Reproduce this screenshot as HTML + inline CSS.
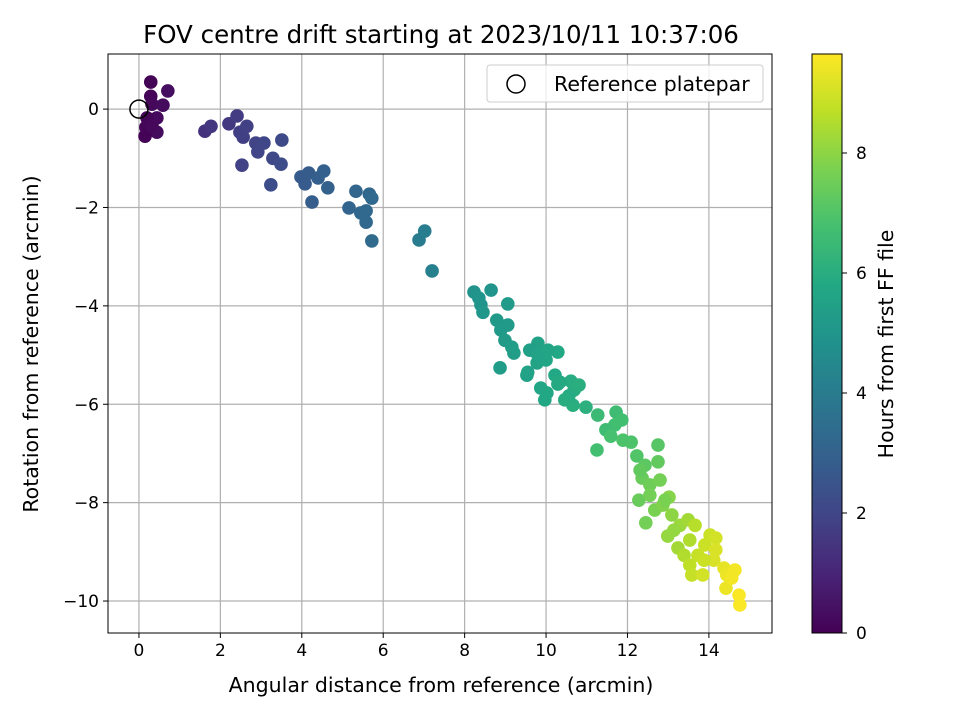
<!DOCTYPE html>
<html><head><meta charset="utf-8"><style>
body{margin:0;background:#fff;font-family:"Liberation Sans","DejaVu Sans",sans-serif}
svg text{font-family:"DejaVu Sans","Liberation Sans",sans-serif;fill:#000}
</style></head><body>
<svg id="c" width="960" height="720" xmlns="http://www.w3.org/2000/svg">
<defs><linearGradient id="vg" x1="0" y1="1" x2="0" y2="0">
<stop offset="0" stop-color="#440154"/><stop offset="0.1" stop-color="#482475"/><stop offset="0.2" stop-color="#414487"/><stop offset="0.3" stop-color="#355f8d"/><stop offset="0.4" stop-color="#2a788e"/><stop offset="0.5" stop-color="#21918c"/><stop offset="0.6" stop-color="#22a884"/><stop offset="0.7" stop-color="#44bf70"/><stop offset="0.8" stop-color="#7ad151"/><stop offset="0.9" stop-color="#bddf26"/><stop offset="1" stop-color="#fde725"/></linearGradient></defs>
<text x="441" y="43" font-size="24.5" text-anchor="middle">FOV centre drift starting at 2023/10/11 10:37:06</text>
<g id="grid"></g><g id="pts"></g>
<rect x="108" y="54" width="664" height="579" fill="none" stroke="#000" stroke-width="1"/>
<g id="axes"></g>
<text x="441" y="692" font-size="20.5" text-anchor="middle">Angular distance from reference (arcmin)</text>
<text transform="translate(38,344) rotate(-90)" font-size="20.5" text-anchor="middle">Rotation from reference (arcmin)</text>
<g>
<rect x="487" y="65" width="276" height="37" rx="3" fill="#fff" fill-opacity="0.8" stroke="#ccc"/>
<circle cx="516" cy="84" r="9" fill="none" stroke="#000" stroke-width="1.5"/>
<text x="554" y="91" font-size="20.5">Reference platepar</text></g>
<rect x="812" y="54" width="30" height="579" fill="url(#vg)" stroke="#000"/>
<g id="cb"></g>
<text transform="translate(893,344) rotate(-90)" font-size="20.5" text-anchor="middle">Hours from first FF file</text>
</svg>
<script>
const xTicks=[0,2,4,6,8,10,12,14];
const yTicks=[0,-2,-4,-6,-8,-10];
const cbTicks=[0,2,4,6,8];
const xs=[0.29,0.29,0.32,0.59,0.71,0.44,0.2,0.17,0.44,0.15,0.32,
1.62,1.77,2.21,2.41,2.48,2.56,2.65,2.53,2.87,2.92,3.07,3.29,3.49,3.51,3.24,
3.98,4.08,4.17,4.25,4.40,4.54,4.64,5.16,5.33,5.45,5.58,5.58,5.66,5.72,5.72,
6.88,7.02,7.2,
8.23,8.65,8.40,8.45,9.06,8.79,8.89,8.99,9.16,9.21,8.87,9.53,9.80,9.60,9.55,9.78,10.0,9.87,10.02,10.22,10.29,10.61,10.69,10.66,10.56,10.29,9.97,10.46,8.35,9.06,9.8,10.05,10.34,10.81,10.98,
11.27,11.72,11.69,11.47,11.25,11.59,11.89,12.23,12.43,12.75,12.36,12.55,12.28,12.67,12.45,12.87,13.02,13.09,13.29,12.99,13.24,13.53,13.39,13.73,14.03,13.9,14.17,14.12,13.53,13.58,13.85,14.37,14.44,14.42,14.74,14.76,11.86,12.09,12.75,12.92,13.49,13.88,14.17,14.64,14.56,12.55,12.8,12.31,13.14,13.66];
const ys=[0.55,0.26,0.1,0.08,0.37,-0.18,-0.18,-0.37,-0.47,-0.55,-0.35,
-0.45,-0.35,-0.3,-0.14,-0.47,-0.57,-0.35,-1.14,-0.69,-0.87,-0.69,-1.0,-1.12,-0.63,-1.54,
-1.38,-1.52,-1.3,-1.89,-1.4,-1.26,-1.6,-2.01,-1.67,-2.11,-2.07,-2.3,-1.73,-1.81,-2.68,
-2.66,-2.48,-3.29,
-3.72,-3.68,-3.98,-4.13,-3.96,-4.29,-4.49,-4.70,-4.84,-4.96,-5.26,-5.41,-4.76,-4.90,-5.35,-5.16,-5.10,-5.67,-5.77,-5.41,-5.59,-5.53,-5.71,-6.02,-5.83,-4.94,-5.91,-5.91,-3.84,-4.39,-5.0,-4.9,-5.55,-5.61,-6.06,
-6.22,-6.16,-6.42,-6.52,-6.93,-6.65,-6.73,-7.05,-7.24,-7.17,-7.5,-7.64,-7.95,-8.15,-8.41,-8.05,-7.89,-8.25,-8.46,-8.68,-8.92,-8.76,-9.07,-9.07,-8.66,-8.86,-8.72,-9.17,-9.27,-9.47,-9.47,-9.33,-9.47,-9.74,-9.88,-10.08,-6.32,-6.77,-6.83,-7.95,-8.35,-9.17,-8.96,-9.37,-9.53,-7.85,-7.54,-7.34,-8.56,-8.46];
const hours=[0.1,0.15,0.2,0.3,0.35,0.25,0.1,0.15,0.3,0.05,0.2,
1.4,1.5,1.6,1.7,1.75,1.8,1.85,1.9,1.95,2.0,2.05,2.1,2.2,2.15,2.25,
2.7,2.75,2.8,2.85,2.9,2.95,3.0,3.1,3.15,3.2,3.25,3.3,3.2,3.25,3.35,
4.0,4.05,4.15,
4.9,5.0,5.0,5.05,5.2,5.15,5.2,5.25,5.3,5.35,5.3,5.5,5.5,5.45,5.55,5.6,5.65,5.7,5.75,5.8,5.85,5.95,6.0,6.05,5.9,5.8,5.75,6.0,4.95,5.2,5.55,5.65,5.85,6.05,6.1,
6.5,6.6,6.7,6.6,6.7,6.8,6.9,7.0,7.2,7.3,7.4,7.5,7.4,7.7,7.6,7.8,7.9,8.0,8.2,8.1,8.3,8.5,8.5,8.8,8.9,8.9,9.0,9.1,8.7,8.8,9.0,9.3,9.4,9.4,9.6,9.6,6.7,6.9,7.1,7.7,8.3,8.9,9.1,9.5,9.5,7.6,7.6,7.3,8.1,8.6];
const NS='http://www.w3.org/2000/svg';
const X0=108,X1=772,Y0=54,Y1=633,XMIN=-0.76,XMAX=15.55,YMIN=-10.65,YMAX=1.12,HMAX=9.65;
const sx=v=>X0+(v-XMIN)/(XMAX-XMIN)*(X1-X0);
const sy=v=>Y1-(v-YMIN)/(YMAX-YMIN)*(Y1-Y0);
const sc=v=>Y1-v/HMAX*(Y1-Y0);
const VS=[[68,1,84],[72,36,117],[65,68,135],[53,95,141],[42,120,142],[33,145,140],[34,168,132],[68,191,112],[122,209,81],[189,223,38],[253,231,37]];
function vir(t){t=Math.max(0,Math.min(1,t))*(VS.length-1);const i=Math.min(Math.floor(t),VS.length-2),f=t-i;const c=VS[i].map((a,k)=>Math.round(a+(VS[i+1][k]-a)*f));return `rgb(${c})`;}
function mk(t,a,p){const e=document.createElementNS(NS,t);for(const k in a)e.setAttribute(k,a[k]);if(p)p.appendChild(e);return e;}
const grid=document.getElementById('grid'),axes=document.getElementById('axes'),pts=document.getElementById('pts'),cb=document.getElementById('cb');
xTicks.forEach(v=>{const x=sx(v);
const g=mk('line',{x1:x,x2:x,y1:Y0,y2:Y1,stroke:'#b0b0b0','stroke-width':1.2},grid);


mk('line',{x1:x,x2:x,y1:Y1,y2:Y1+5,stroke:'#000'},axes);
const t=mk('text',{x:x,y:Y1+23,'font-size':17,'text-anchor':'middle'},axes);t.textContent=v<0?'\u2212'+(-v):v;

});
yTicks.forEach(v=>{const y=sy(v);
const g=mk('line',{x1:X0,x2:X1,y1:y,y2:y,stroke:'#b0b0b0','stroke-width':1.2},grid);


mk('line',{x1:X0-5,x2:X0,y1:y,y2:y,stroke:'#000'},axes);
const t=mk('text',{x:X0-9,y:y+6,'font-size':17,'text-anchor':'end'},axes);t.textContent=v<0?'\u2212'+(-v):v;

});
cbTicks.forEach(v=>{const y=sc(v);
mk('line',{x1:842,x2:847,y1:y,y2:y,stroke:'#000'},cb);
const t=mk('text',{x:856,y:y+6,'font-size':17},cb);t.textContent=v;

});
xs.forEach((v,i)=>{const c=mk('circle',{cx:sx(v),cy:sy(ys[i]),r:6.8,fill:vir(hours[i]/HMAX)},pts);

});
const ref=mk('circle',{cx:sx(0),cy:sy(0),r:9,fill:'none',stroke:'#000','stroke-width':1.5},pts);


</script>
</body></html>
